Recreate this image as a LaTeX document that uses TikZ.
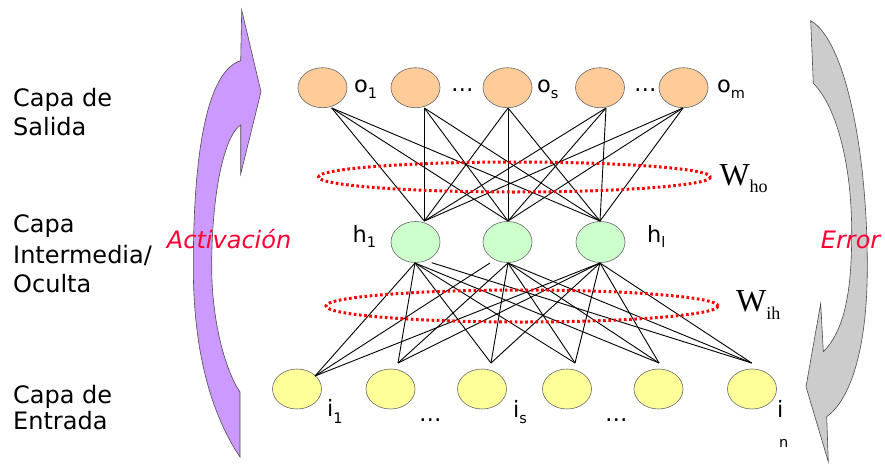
\documentclass[tikz,border=0pt]{standalone}
\usepackage{fontspec}
\setmainfont{DejaVu Sans}[ItalicFont={DejaVu Sans Oblique}]
\newfontfamily\wserif{Liberation Serif}
\usetikzlibrary{shapes.geometric}
\definecolor{purp}{RGB}{204,153,255}
\definecolor{grayarr}{RGB}{204,204,204}
\definecolor{orangen}{RGB}{255,204,153}
\definecolor{greenn}{RGB}{204,255,204}
\definecolor{yellown}{RGB}{255,255,153}
\definecolor{redtxt}{RGB}{255,0,51}
\definecolor{reddot}{RGB}{255,0,0}
\newcommand\lsub[2][6.5pt]{\raisebox{-#1}{\fontsize{14.5}{14.5}\selectfont #2}}
\newcommand\wsub[1]{\raisebox{-7.5pt}{\fontsize{18}{18}\selectfont #1}}
\begin{document}
\begin{tikzpicture}[x=1pt,y=-1pt,
 neuron/.style={ellipse, draw=black!60, line width=0.6pt, minimum width=49pt, minimum height=40pt, inner sep=0pt},
 outn/.style={neuron, fill=orangen},
 hidn/.style={neuron, fill=greenn, minimum height=41pt},
 inn/.style={neuron, fill=yellown},
 layertxt/.style={anchor=base west, inner sep=0pt, font=\fontsize{24}{29}\selectfont},
 lbl/.style={anchor=base west, inner sep=0pt, font=\fontsize{22.5}{26}\selectfont},
 wlbl/.style={anchor=base west, inner sep=0pt, font=\wserif\fontsize{32}{36}\selectfont},
 flowtxt/.style={anchor=base west, inner sep=0pt, text=redtxt, font=\fontsize{24}{29}\selectfont\itshape},
 conn/.style={line width=0.9pt, black},
 weights/.style={draw=reddot, line width=3pt, dash pattern=on 2.6pt off 2.6pt},
 flowarrow/.style={draw=black!70, line width=0.6pt}]
\useasboundingbox (0,0) rectangle (885,463);

% flow arrows
\path[flowarrow, fill=purp] (241.7,10) -- (261,91.7) -- (240.7,174) -- (240.7,125)
  .. controls (225,135) and (211.7,190) .. (211.7,267)
  .. controls (211.7,320) and (225,370) .. (240,392) -- (240,457)
  .. controls (215,420) and (193.3,360) .. (193.3,267)
  .. controls (193.3,140) and (210,70) .. (240.7,60.7) -- cycle;
\path[flowarrow, fill=grayarr] (810.7,20.7) .. controls (845,40) and (867.3,150) .. (867.3,266.7)
  .. controls (867.3,350) and (850,400) .. (826.7,416.7) -- (828.3,461.7) -- (806,386.7)
  -- (820.7,303.3) -- (823.3,351.7)
  .. controls (845,330) and (851.7,290) .. (851.7,233)
  .. controls (851.7,160) and (835,105) .. (813.3,83.3) -- cycle;

% layer texts
\node[layertxt] (t1) at (13,106) {Capa de};
\node[layertxt] (t2) at (13,135) {Salida};
\node[layertxt] (t3) at (13,232) {Capa};
\node[layertxt] (t4) at (13,263) {Intermedia/};
\node[layertxt] (t5) at (13,292) {Oculta};
\node[layertxt] (t6) at (13,403) {Capa de};
\node[layertxt] (t7) at (13,429) {Entrada};
\node[flowtxt] (act) at (166.7,248) {Activación};
\node[flowtxt] (err) at (820.7,248) {Error};

% neurons
\node[outn] (o1) at (322.5,87.7) {};
\node[outn] (o2) at (415.5,87.7) {};
\node[outn] (o3) at (507.5,87.7) {};
\node[outn] (o4) at (600,87.7) {};
\node[outn] (o5) at (683.5,87.7) {};
\node[hidn] (h1) at (415.5,242) {};
\node[hidn] (h2) at (507.5,242) {};
\node[hidn] (h3) at (600.5,242) {};
\node[inn] (i1) at (297,389) {};
\node[inn] (i2) at (390.5,389) {};
\node[inn] (i3) at (482,389) {};
\node[inn] (i4) at (567,389) {};
\node[inn] (i5) at (658.5,389) {};
\node[inn] (i6) at (752,389) {};

% attachment points
\coordinate (o1b) at (331.7,108);
\coordinate (o2b) at (424.3,108);
\coordinate (o3b) at (508,108);
\coordinate (o4b) at (606,108);
\coordinate (o5b) at (683,108);
\coordinate (h1t) at (424.3,221);
\coordinate (h2t) at (508,221);
\coordinate (h3t) at (600,221);
\coordinate (h1b) at (415,263);
\coordinate (h1c) at (431.7,262.7);
\coordinate (h2b) at (508,263);
\coordinate (h2c) at (490,263);
\coordinate (h3b) at (600,263);
\coordinate (i1t) at (315,376);
\coordinate (i2t) at (398,363);
\coordinate (i3t) at (491,363);
\coordinate (i4t) at (575,363);
\coordinate (i5t) at (659,363);
\coordinate (i6t) at (751.7,363);

% connections
\foreach \o in {1,...,5}
  \foreach \h in {1,2,3}
    \draw[conn] (o\o b) -- (h\h t);
\foreach \i in {2,...,5}
  \foreach \h in {1,2,3}
    \draw[conn] (i\i t) -- (h\h b);
\draw[conn] (i1t) -- (h1b);
\draw[conn] (i1t) -- (h2c);
\draw[conn] (i1t) -- (h3b);
\draw[conn] (i6t) -- (h1c);
\draw[conn] (i6t) -- (h2b);
\draw[conn] (i6t) -- (h3b);

% weight groups
\draw[weights] (514.5,177) ellipse [x radius=196, y radius=15];
\draw[weights] (522,306) ellipse [x radius=196, y radius=16];
\node[wlbl] (who) at (719.3,185) {W\wsub{ho}};
\node[wlbl] (wih) at (736,311.7) {W\wsub{ih}};

% neuron labels
\node[lbl] (lo1) at (354,92.3) {o\lsub{1}};
\node[lbl] (ld1) at (451,91) {…};
\node[lbl] (los) at (537,92.3) {o\lsub{s}};
\node[lbl] (ld2) at (634,91) {…};
\node[lbl] (lom) at (717,92.3) {o\lsub{m}};
\node[lbl] (lh1) at (352.3,242.3) {h\lsub[5.5pt]{1}};
\node[lbl] (lhl) at (647,242.3) {h\lsub[5.5pt]{l}};
\node[lbl] (li1) at (327,416.7) {i\lsub{1}};
\node[lbl] (ld3) at (419,421) {…};
\node[lbl] (lis) at (513,417) {i\lsub{s}};
\node[lbl] (ld4) at (605,421) {…};
\node[lbl] (lin) at (777,417) {i};
\node[anchor=base west, inner sep=0pt, font=\fontsize{14.5}{14.5}\selectfont] (lnn) at (779,447) {n};
\end{tikzpicture}
\end{document}
